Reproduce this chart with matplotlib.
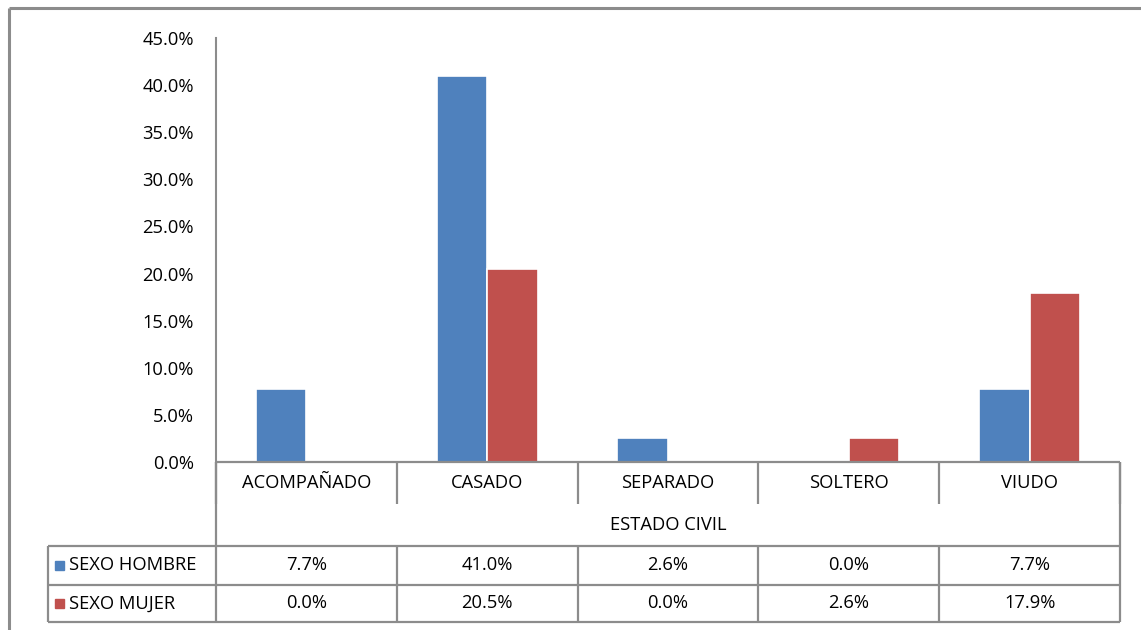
import numpy as np
import matplotlib.pyplot as plt
from matplotlib.lines import Line2D
from matplotlib.patches import Rectangle

categorias = ['ACOMPAÑADO', 'CASADO', 'SEPARADO', 'SOLTERO', 'VIUDO']
series = ['SEXO HOMBRE', 'SEXO MUJER']
hombre = [7.7, 41.0, 2.6, 0.0, 7.7]
mujer = [0.0, 20.5, 0.0, 2.6, 17.9]
colores = ['#4F81BD', '#C0504D']
yticks = [0, 5, 10, 15, 20, 25, 30, 35, 40, 45]

W, H = 1141, 630
plt.rcParams['font.family'] = ['Open Sans', 'DejaVu Sans']
fig = plt.figure(figsize=(W / 100, H / 100), dpi=100)
fs = 13.2

# pixel layout of the Excel chart
x0, x1 = 216, 1120
ytop, ybot = 38, 462
ax = fig.add_axes([x0 / W, 1 - ybot / H, (x1 - x0) / W, (ybot - ytop) / H])
n = len(categorias)
x = np.arange(n)
bw = 0.28
for vals, c, off in [(hombre, colores[0], -bw / 2), (mujer, colores[1], bw / 2)]:
    ax.bar(x + off, vals, bw, color=c, edgecolor='white', linewidth=1.2, zorder=3)
ax.set_xlim(-0.5, n - 0.5)
ax.set_ylim(0, 45)
ax.set_yticks(yticks)
ax.set_yticklabels([f'{v:.1f}%' for v in yticks], fontsize=fs)
ax.tick_params(axis='y', length=0, pad=16)
ax.set_xticks([])
for s in ['top', 'right', 'bottom']:
    ax.spines[s].set_visible(False)
ax.spines['left'].set_color('#8c8c8c')
ax.spines['left'].set_linewidth(1.5)

# overlay for table and frame, pixel coordinates
ov = fig.add_axes([0, 0, 1, 1], zorder=5)
ov.set_xlim(0, W)
ov.set_ylim(H, 0)
ov.axis('off')
ov.patch.set_alpha(0)
gc = '#8c8c8c'
lw = 1.6

def ln(xs, ys, c=gc, w=lw):
    ov.add_line(Line2D(xs, ys, color=c, linewidth=w, solid_capstyle='butt'))

# outer frame
ln([9, 9], [8, H], w=2.2)
ln([9, W], [8, 8], w=2.2)

xleft = 48
cw = (x1 - x0) / n
bounds = [x0 + i * cw for i in range(n + 1)]
r0, r1, r2, r3, r4 = 462, 504, 546, 585, 622

ln([x0, x1], [r0, r0])
for b in bounds:
    ln([b, b], [r0, r1])
ln([x0, x0], [r0, r4])
ln([x1, x1], [r0, r4])
for r in [r2, r3, r4]:
    ln([xleft, x1], [r, r])
ln([xleft, xleft], [r2, r4])
for b in bounds[1:-1]:
    ln([b, b], [r2, r4])

for i, cat in enumerate(categorias):
    ov.text((bounds[i] + bounds[i + 1]) / 2, (r0 + r1) / 2, cat,
            ha='center', va='center', fontsize=fs)
ov.text((x0 + x1) / 2, (r1 + r2) / 2, 'ESTADO CIVIL', ha='center', va='center', fontsize=fs)

for j, (nombre, vals) in enumerate(zip(series, [hombre, mujer])):
    ya, yb = [(r2, r3), (r3, r4)][j]
    yc = (ya + yb) / 2
    ov.add_patch(Rectangle((55, yc - 5), 9, 9, color=colores[j]))
    ov.text(69, yc, nombre, ha='left', va='center', fontsize=fs)
    for i, v in enumerate(vals):
        ov.text((bounds[i] + bounds[i + 1]) / 2, yc, f'{v:.1f}%',
                ha='center', va='center', fontsize=fs)

fig.savefig('out.png', dpi=100)
